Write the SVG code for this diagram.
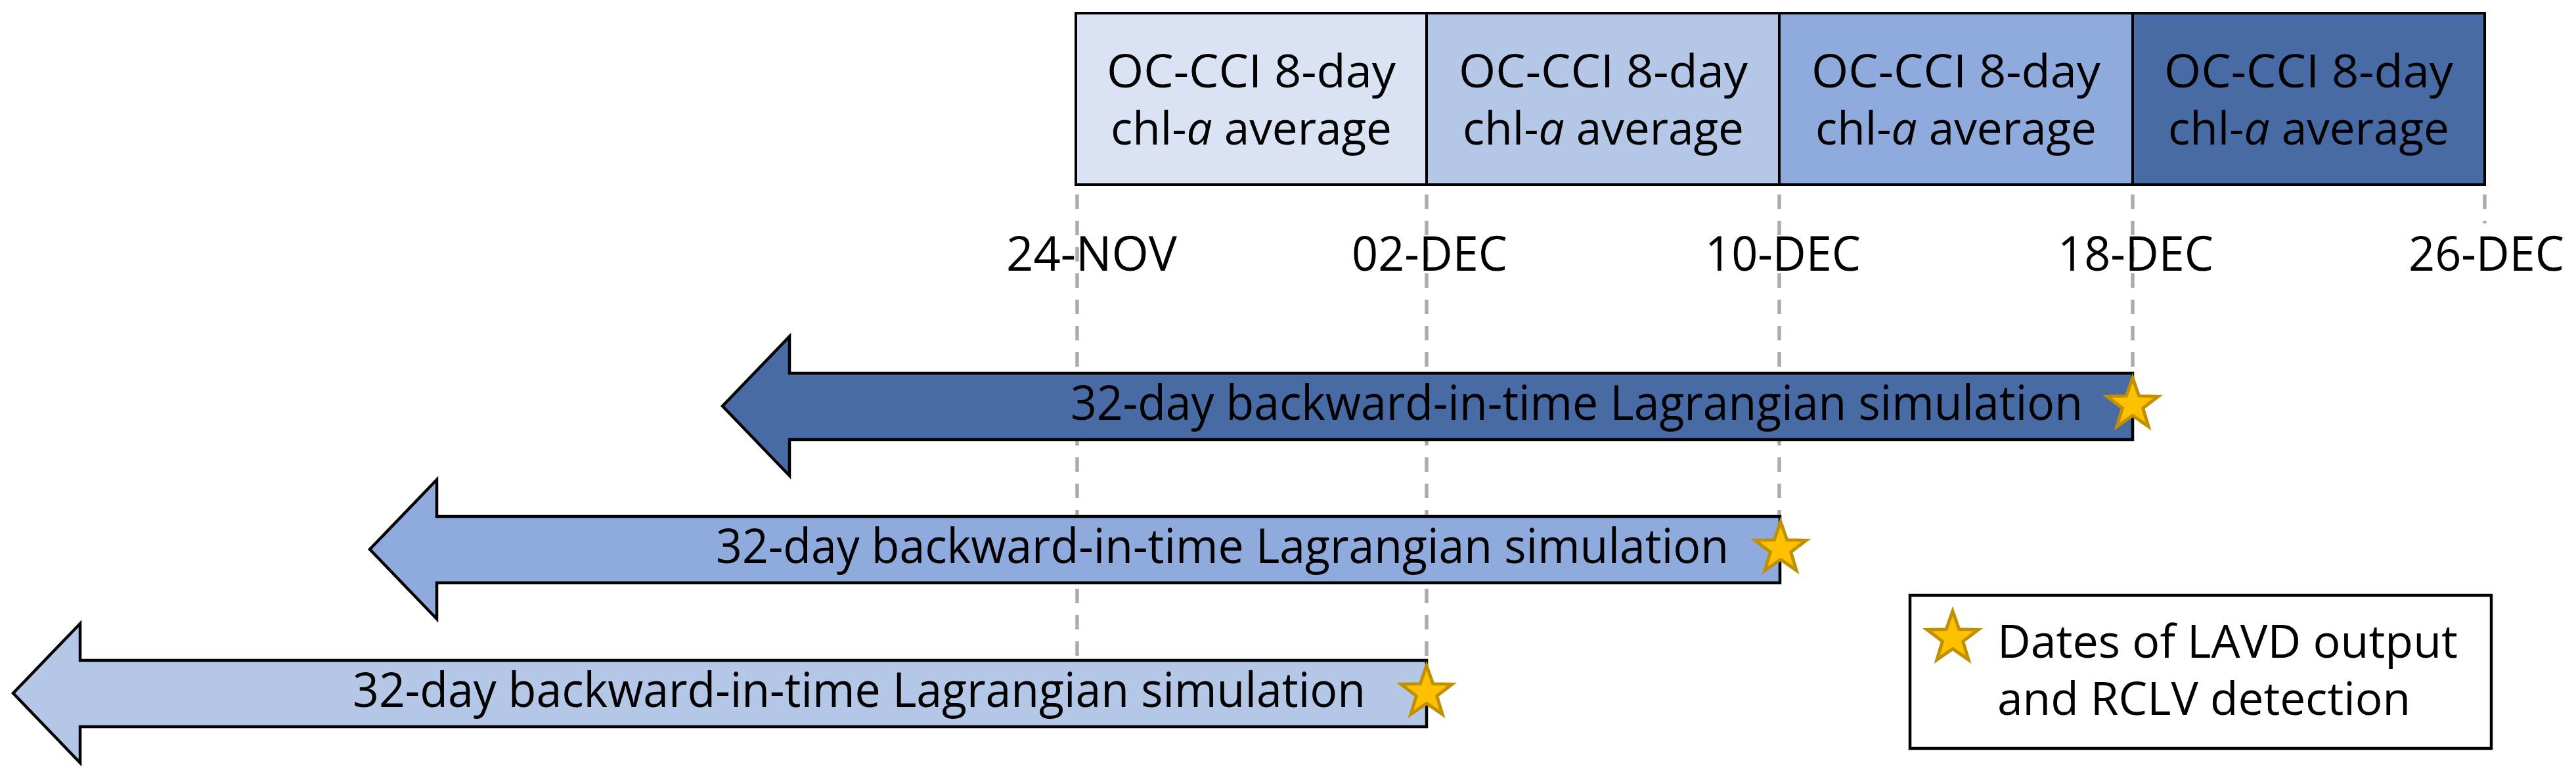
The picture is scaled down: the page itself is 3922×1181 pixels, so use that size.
<svg xmlns="http://www.w3.org/2000/svg" xmlns:xlink="http://www.w3.org/1999/xlink" width="3922" height="1181" viewBox="0 0 3922 1181">
<style>
.t{font-family:"Open Sans","Noto Sans","DejaVu Sans",sans-serif;font-size:73px;fill:#000}
.s{font-size:70px}
.box{stroke:#000;stroke-width:4}
.arr{stroke:#000;stroke-width:4.5;stroke-linejoin:miter}
.guide{stroke:#AFABAB;stroke-width:5.5;stroke-dasharray:22 18;fill:none}
.star{fill:#FFC000;stroke:#BF9000;stroke-width:5;stroke-linejoin:miter}
</style>
<defs>
<path id="star" d="M0,-41 L9.7,-13.35 L38.99,-12.67 L15.69,5.1 L24.1,33.17 L0,16.5 L-24.1,33.17 L-15.69,5.1 L-38.99,-12.67 L-9.7,-13.35 Z"/>
</defs>
<rect width="3922" height="1181" fill="#fff"/>
<g id="guides">
<line class="guide" x1="1640" y1="296" x2="1640" y2="1005"/>
<line class="guide" x1="2172" y1="296" x2="2172" y2="1005"/>
<line class="guide" x1="2709" y1="296" x2="2709" y2="786"/>
<line class="guide" x1="3247" y1="296" x2="3247" y2="568"/>
<line class="guide" x1="3783" y1="296" x2="3783" y2="340"/>
</g>
<g id="box1">
<rect class="box" x="1638" y="20" width="534" height="261" fill="#DAE3F3"/>
<text class="t s" x="1905" y="133" text-anchor="middle" textLength="440" lengthAdjust="spacingAndGlyphs">OC-CCI 8-day</text>
<text class="t s" x="1905" y="220" text-anchor="middle" textLength="428" lengthAdjust="spacingAndGlyphs">chl-<tspan font-style="italic">a</tspan> average</text>
</g>
<g id="box2">
<rect class="box" x="2172" y="20" width="537" height="261" fill="#B4C7E7"/>
<text class="t s" x="2441" y="133" text-anchor="middle" textLength="440" lengthAdjust="spacingAndGlyphs">OC-CCI 8-day</text>
<text class="t s" x="2441" y="220" text-anchor="middle" textLength="428" lengthAdjust="spacingAndGlyphs">chl-<tspan font-style="italic">a</tspan> average</text>
</g>
<g id="box3">
<rect class="box" x="2709" y="20" width="538" height="261" fill="#8FAADC"/>
<text class="t s" x="2978" y="133" text-anchor="middle" textLength="440" lengthAdjust="spacingAndGlyphs">OC-CCI 8-day</text>
<text class="t s" x="2978" y="220" text-anchor="middle" textLength="428" lengthAdjust="spacingAndGlyphs">chl-<tspan font-style="italic">a</tspan> average</text>
</g>
<g id="box4">
<rect class="box" x="3247" y="20" width="536" height="261" fill="#486BA5"/>
<text class="t s" x="3515" y="133" text-anchor="middle" textLength="440" lengthAdjust="spacingAndGlyphs">OC-CCI 8-day</text>
<text class="t s" x="3515" y="220" text-anchor="middle" textLength="428" lengthAdjust="spacingAndGlyphs">chl-<tspan font-style="italic">a</tspan> average</text>
</g>
<g id="dates">
<text class="t" x="1532" y="412" textLength="260" lengthAdjust="spacingAndGlyphs">24-NOV</text>
<text class="t" x="2058" y="412" textLength="237" lengthAdjust="spacingAndGlyphs">02-DEC</text>
<text class="t" x="2596" y="412" textLength="237" lengthAdjust="spacingAndGlyphs">10-DEC</text>
<text class="t" x="3133" y="412" textLength="237" lengthAdjust="spacingAndGlyphs">18-DEC</text>
<text class="t" x="3667" y="412" textLength="237" lengthAdjust="spacingAndGlyphs">26-DEC</text>
</g>
<g id="arrow1">
<path class="arr" fill="#486BA5" d="M1100,618 L1202,512 L1202,568 L3247,568 L3247,669 L1202,669 L1202,724 Z"/>
<text class="t" x="1630" y="639" textLength="1541" lengthAdjust="spacingAndGlyphs">32-day backward-in-time Lagrangian simulation</text>
<use href="#star" class="star" x="3247" y="616"/>
</g>
<g id="arrow2">
<path class="arr" fill="#8FAADC" d="M563,836 L665,730 L665,786 L2710,786 L2710,887 L665,887 L665,942 Z"/>
<text class="t" x="1090" y="857" textLength="1542" lengthAdjust="spacingAndGlyphs">32-day backward-in-time Lagrangian simulation</text>
<use href="#star" class="star" x="2711" y="835"/>
</g>
<g id="arrow3">
<path class="arr" fill="#B4C7E7" d="M20,1055 L122,949 L122,1005 L2172,1005 L2172,1106 L122,1106 L122,1161 Z"/>
<text class="t" x="537" y="1076" textLength="1542" lengthAdjust="spacingAndGlyphs">32-day backward-in-time Lagrangian simulation</text>
<use href="#star" class="star" x="2172" y="1054"/>
</g>
<g id="legend">
<rect x="2908" y="906" width="885" height="233" fill="#fff" stroke="#000" stroke-width="4.5"/>
<use href="#star" class="star" x="2973" y="971"/>
<text class="t s" x="3041" y="1001" textLength="701" lengthAdjust="spacingAndGlyphs">Dates of LAVD output</text>
<text class="t s" x="3041" y="1088" textLength="629" lengthAdjust="spacingAndGlyphs">and RCLV detection</text>
</g>
</svg>
